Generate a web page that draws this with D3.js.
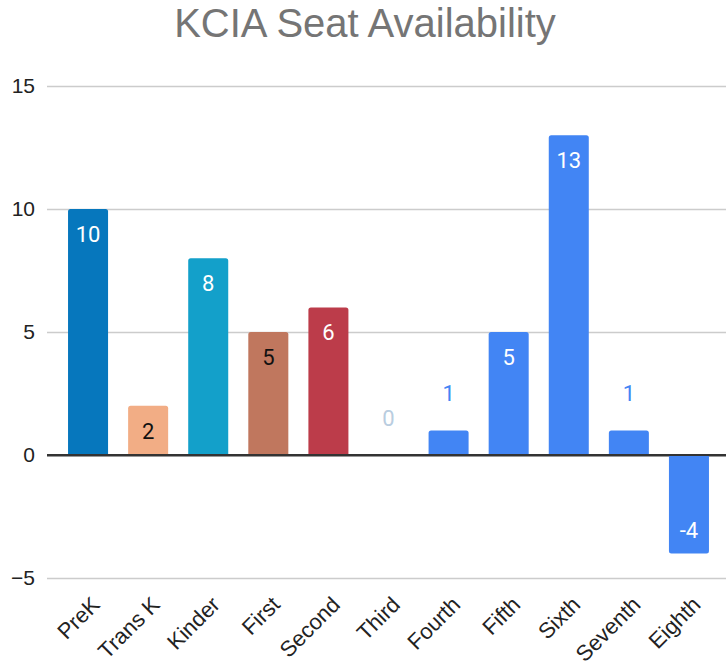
<!DOCTYPE html>
<html lang="en">
  <head>
    <meta charset="utf-8">
    <title>KCIA Seat Availability</title>
    <script src="https://d3js.org/d3.v7.min.js"></script>
    <style>
      body { margin: 0; background: #fff; }
      .arial { font-family: "Liberation Sans", Arial, sans-serif; }
    </style>
  </head>
  <body>
    <svg id="chart"></svg>
    <script>
      // data
      const grades = ["PreK", "Trans K", "Kinder", "First", "Second", "Third",
                      "Fourth", "Fifth", "Sixth", "Seventh", "Eighth"];
      const seats = [10, 2, 8, 5, 6, 0, 1, 5, 13, 1, -4];
      const yTicks = [-5, 0, 5, 10, 15];

      // per-bar colours (style, kept apart from the data)
      const barColors = ["#0677bd", "#f2ad85", "#13a0ca", "#c0775e", "#bc3c4a",
                         "#b9cde0", "#4285f4", "#4285f4", "#4285f4", "#4285f4", "#4285f4"];
      const darkLabel = ["Trans K", "First"];

      const W = 726, H = 666;
      const svg = d3.select("#chart").attr("width", W).attr("height", H);

      const x = d3.scaleBand()
                  .domain(grades)
                  .range([58, 719])
                  .paddingInner(0.334)
                  .paddingOuter(0.167);

      const y = d3.scaleLinear()
                  .domain([-5, 15])
                  .range([578, 86]);

      // title
      svg.append("text")
         .attr("class", "arial")
         .attr("x", 365)
         .attr("y", 37)
         .attr("text-anchor", "middle")
         .attr("font-size", 40)
         .attr("fill", "#757575")
         .text("KCIA Seat Availability");

      // gridlines + y labels
      const yAxis = d3.axisLeft(y).tickValues(yTicks).tickSize(-(W - 47)).tickFormat(d3.format("d"));
      const gy = svg.append("g")
                    .attr("transform", "translate(47,0)")
                    .call(yAxis);
      gy.select(".domain").remove();
      gy.selectAll(".tick line")
        .attr("stroke", function(d) { return d === 0 ? "#333" : "#ccc"; })
        .attr("stroke-width", function(d) { return d === 0 ? 2 : 1.3; });
      gy.selectAll(".tick text")
        .attr("class", "arial")
        .attr("x", -12)
        .attr("font-size", 21)
        .attr("fill", "#222");

      // bars with rounded outer end
      function barPath(d) {
        const x0 = x(d.g), w = x.bandwidth(), r = 2.5;
        const y0 = y(0), y1 = y(d.v);
        if (d.v === 0) return "";
        const s = d.v > 0 ? 1 : -1;
        return "M" + x0 + "," + y0 +
               "L" + x0 + "," + (y1 + s * r) +
               "Q" + x0 + "," + y1 + " " + (x0 + r) + "," + y1 +
               "L" + (x0 + w - r) + "," + y1 +
               "Q" + (x0 + w) + "," + y1 + " " + (x0 + w) + "," + (y1 + s * r) +
               "L" + (x0 + w) + "," + y0 + "Z";
      }

      const rows = grades.map(function(g, i) { return { g: g, v: seats[i], c: barColors[i] }; });

      svg.append("g").selectAll("path")
         .data(rows)
         .enter()
         .append("path")
         .attr("d", barPath)
         .attr("fill", function(d) { return d.c; });

      // redraw the zero line on top of the bars
      svg.append("line")
         .attr("x1", 47).attr("x2", W)
         .attr("y1", y(0)).attr("y2", y(0))
         .attr("stroke", "#333")
         .attr("stroke-width", 2);

      // value labels
      svg.append("g").selectAll("text")
         .data(rows)
         .enter()
         .append("text")
         .attr("x", function(d) { return x(d.g) + x.bandwidth() / 2; })
         .attr("y", function(d) {
           if (d.v >= 2) return y(d.v) + 33;
           if (d.v < 0) return y(d.v) - 15;
           return y(d.v) - 29;
         })
         .attr("text-anchor", "middle")
         .attr("font-family", "Roboto, sans-serif")
         .attr("font-size", 22)
         .attr("fill", function(d) {
           if (Math.abs(d.v) < 2) return d.c;
           return darkLabel.includes(d.g) ? "#111" : "#fff";
         })
         .text(function(d) { return d.v; });

      // x labels, rotated
      svg.append("g").selectAll("text")
         .data(grades)
         .enter()
         .append("text")
         .attr("class", "arial")
         .attr("transform", function(d) {
           return "translate(" + (x(d) + x.bandwidth() / 2 + 13) + ",606) rotate(-45)";
         })
         .attr("text-anchor", "end")
         .attr("font-size", 22)
         .attr("fill", "#222")
         .text(function(d) { return d; });
    </script>
  </body>
</html>
